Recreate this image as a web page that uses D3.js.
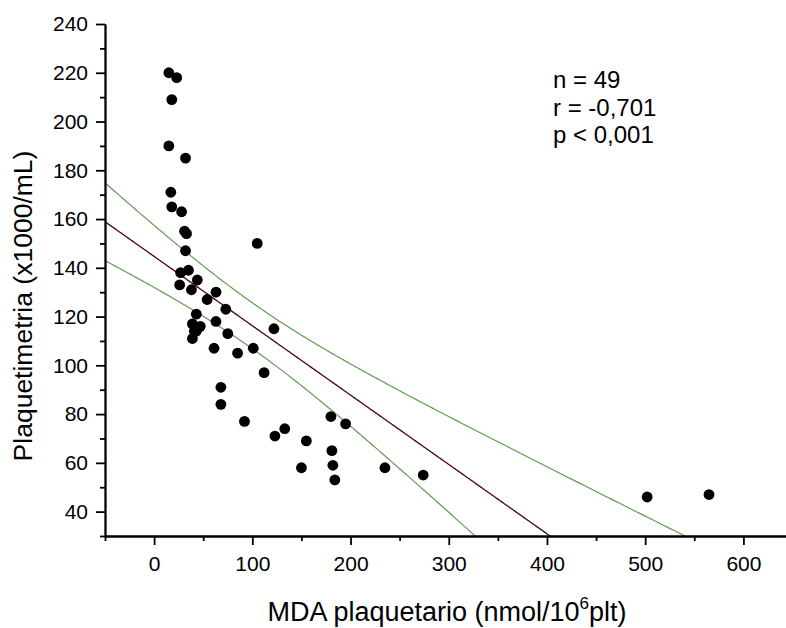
<!DOCTYPE html>
<html>
<head>
<meta charset="utf-8">
<script src="https://cdn.jsdelivr.net/npm/d3@7"></script>
<style>
  html, body { margin: 0; padding: 0; background: #fff; }
  svg { display: block; font-family: "Liberation Sans", Arial, sans-serif; }
</style>
</head>
<body>
<svg id="chart" width="786" height="628"></svg>
<script>
// Data: MDA plaquetario (x) vs Plaquetimetria (y)
const mda = [15, 23, 18, 15, 32, 17, 18, 28, 31, 33,
             105, 32, 35, 27, 26, 44, 38, 63, 54, 73,
             43, 122, 63, 39, 47, 43, 39, 75, 61, 85,
             101, 112, 68, 68, 92, 123, 133, 155, 150, 180,
             195, 181, 182, 184, 235, 274, 502, 565, 41];
const plaq = [220, 218, 209, 190, 185, 171, 165, 163, 155, 154,
              150, 147, 139, 138, 133, 135, 131, 130, 127, 123,
              121, 115, 118, 117, 116, 114, 111, 113, 107, 105,
              107, 97, 91, 84, 77, 71, 74, 69, 58, 79,
              76, 65, 59, 53, 58, 55, 46, 47, 114];
const xTicks = [0, 100, 200, 300, 400, 500, 600];
const xMinor = [-50, 50, 150, 250, 350, 450, 550, 650];
const yTicks = [40, 60, 80, 100, 120, 140, 160, 180, 200, 220, 240];
const yMinor = [30, 50, 70, 90, 110, 130, 150, 170, 190, 210, 230];
const statsLines = ["n = 49", "r = -0,701", "p < 0,001"];
const tCrit = 2.012; // Student t, 95%, df = 47

const svg = d3.select("#chart");
const x = d3.scaleLinear().domain([-50, 650]).range([105, 792.5]);
const y = d3.scaleLinear().domain([30, 240]).range([536, 24]);

// clip for fit lines
svg.append("defs").append("clipPath").attr("id", "plotclip")
  .append("rect").attr("x", 105).attr("y", 24).attr("width", 700).attr("height", 512);

// regression from data
const n = mda.length;
const mx = d3.mean(mda), my = d3.mean(plaq);
let sxx = 0, sxy = 0;
for (let i = 0; i < n; i++) { sxx += (mda[i] - mx) ** 2; sxy += (mda[i] - mx) * (plaq[i] - my); }
const slope = sxy / sxx, icpt = my - slope * mx;
let sse = 0;
for (let i = 0; i < n; i++) { sse += (plaq[i] - (icpt + slope * mda[i])) ** 2; }
const s = Math.sqrt(sse / (n - 2));
const xs = d3.range(-50, 651, 2);
const fit = v => icpt + slope * v;
const hw = v => tCrit * s * Math.sqrt(1 / n + (v - mx) ** 2 / sxx);

const g = svg.append("g").attr("clip-path", "url(#plotclip)");
const line = d3.line().x(d => x(d[0])).y(d => y(d[1]));
g.append("path").datum(xs.map(v => [v, fit(v) + hw(v)])).attr("d", line)
  .attr("fill", "none").attr("stroke", "#5e9e50").attr("stroke-width", 1.2);
g.append("path").datum(xs.map(v => [v, fit(v) - hw(v)])).attr("d", line)
  .attr("fill", "none").attr("stroke", "#5e9e50").attr("stroke-width", 1.2);
g.append("path").datum(xs.map(v => [v, fit(v)])).attr("d", line)
  .attr("fill", "none").attr("stroke", "#4a0505").attr("stroke-width", 1.3);

// points
svg.append("g").selectAll("circle").data(mda.map((v, i) => [v, plaq[i]])).join("circle")
  .attr("cx", d => x(d[0])).attr("cy", d => y(d[1])).attr("r", 5.4).attr("fill", "#000");

// axes
const xAxis = svg.append("g").attr("transform", "translate(0,536)")
  .call(d3.axisBottom(x).tickValues(xTicks).tickSize(9).tickSizeOuter(0).tickPadding(11));
const xAxisMinor = svg.append("g").attr("transform", "translate(0,536)")
  .call(d3.axisBottom(x).tickValues(xMinor).tickSize(5).tickSizeOuter(0).tickFormat(""));
const yAxis = svg.append("g").attr("transform", "translate(105,0)")
  .call(d3.axisLeft(y).tickValues(yTicks).tickSize(9).tickSizeOuter(0).tickPadding(8));
const yAxisMinor = svg.append("g").attr("transform", "translate(105,0)")
  .call(d3.axisLeft(y).tickValues(yMinor).tickSize(5).tickSizeOuter(0).tickFormat(""));

[xAxis, xAxisMinor, yAxis, yAxisMinor].forEach(a => {
  a.selectAll("path.domain").attr("stroke", "#000").attr("stroke-width", 1.8);
  a.selectAll(".tick line").attr("stroke", "#000").attr("stroke-width", 1.8);
  a.selectAll(".tick text").attr("fill", "#000").style("font-size", "21px")
    .style("font-family", "'Liberation Sans', Arial, sans-serif");
});

// axis titles
const xt = svg.append("text").attr("x", 447).attr("y", 621).attr("text-anchor", "middle")
  .style("font-size", "27px").attr("fill", "#000");
xt.append("tspan").text("MDA plaquetario (nmol/10");
xt.append("tspan").text("6").style("font-size", "17px").attr("dy", "-12");
xt.append("tspan").text("plt)").attr("dy", "12");

svg.append("text").attr("transform", "translate(32,306) rotate(-90)")
  .attr("text-anchor", "middle").style("font-size", "26.5px").attr("fill", "#000")
  .text("Plaquetimetria (x1000/mL)");

// stats annotation
svg.append("g").selectAll("text").data(statsLines).join("text")
  .attr("x", 553).attr("y", (d, i) => 88 + i * 27.5)
  .style("font-size", "24px").attr("fill", "#000").text(d => d);
</script>
</body>
</html>
